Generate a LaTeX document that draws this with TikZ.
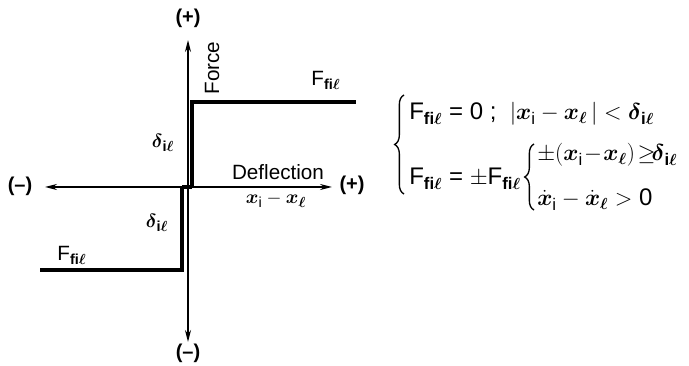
\documentclass[tikz,border=0pt]{standalone}
\usepackage{fontspec}
\usepackage{amsmath}
\setmainfont{Liberation Sans}
\usetikzlibrary{arrows.meta,decorations.pathreplacing}
\newcommand{\Ffil}{F$_{\textbf{fi}\boldsymbol{\ell}}$}
\newcommand{\dil}{$\boldsymbol{\delta}_{\textbf{i}\boldsymbol{\ell}}$}
\newcommand{\xv}{\boldsymbol{x}}
\begin{document}
\begin{tikzpicture}[x=0.75pt,y=-0.75pt,
  axis/.style={line width=1.1pt,-{Stealth[length=9pt,width=4.5pt]}},
  stepline/.style={line width=3pt},
  lbl/.style={inner sep=0pt,font=\fontsize{15.5}{17}\selectfont},
  sgn/.style={inner sep=0pt,font=\bfseries\fontsize{15}{17}\selectfont},
  eq/.style={inner sep=0pt,anchor=base west,font=\fontsize{18}{20}\selectfont},
  bracestyle/.style={line width=1pt,decorate,decoration={brace,amplitude=7pt}}]
\useasboundingbox (0,0) rectangle (689,366);
% axes
\coordinate (o) at (188,187);
\coordinate (top) at (188,40);
\coordinate (bot) at (188,342);
\coordinate (left) at (45,187);
\coordinate (right) at (332,187);
\draw[axis] (o) -- (top);
\draw[axis] (o) -- (bot);
\draw[axis] (o) -- (left);
\draw[axis] (o) -- (right);
\node[sgn] (tp) at (188,18) {(+)};
\node[sgn] (bm) at (188,353) {(--)};
\node[sgn] (lm) at (20,186) {(--)};
\node[sgn] (rp) at (352,185) {(+)};
% step curve
\coordinate (a1) at (182,187);
\coordinate (a2) at (192,187);
\coordinate (u1) at (192,102);
\coordinate (u2) at (356,102);
\coordinate (l1) at (182,270);
\coordinate (l2) at (40,270);
\draw[stepline] (a1) -- (a2);
\draw[stepline] (a2) -- (u1) -- (u2);
\draw[stepline] (a1) -- (l1) -- (l2);
% labels
\node[lbl,rotate=90] (force) at (212,68) {Force};
\node[lbl] (fu) at (326,80) {\Ffil};
\node[lbl] (du) at (163,143) {\dil};
\node[lbl] (dl) at (157,223) {\dil};
\node[lbl] (fl) at (72,255) {\Ffil};
\node[lbl] (defl) at (278,172) {Deflection};
\node[lbl] (xx) at (276,200) {$\xv_{\mathrm{i}}-\xv_{\boldsymbol{\ell}}$};
% equations
\draw[bracestyle] (404,194) -- (404,95);
\node[eq] (e1) at (409,120) {\Ffil\ = 0 ;\ \ $|\xv_{\mathrm{i}}-\xv_{\boldsymbol{\ell}}\,|<$ \dil};
\node[eq] (e2) at (409,185) {\Ffil\ = $\pm$\Ffil};
\draw[bracestyle] (534,210) -- (534,144);
\node[eq] (e3) at (537,161) {$\pm(\xv_{\mathrm{i}}\!-\!\xv_{\boldsymbol{\ell}})\!\geq\!$\dil};
\node[eq] (e4) at (537,206) {$\dot \xv_{\mathrm{i}}-\dot \xv_{\boldsymbol{\ell}}>$ 0};
\end{tikzpicture}
\end{document}
